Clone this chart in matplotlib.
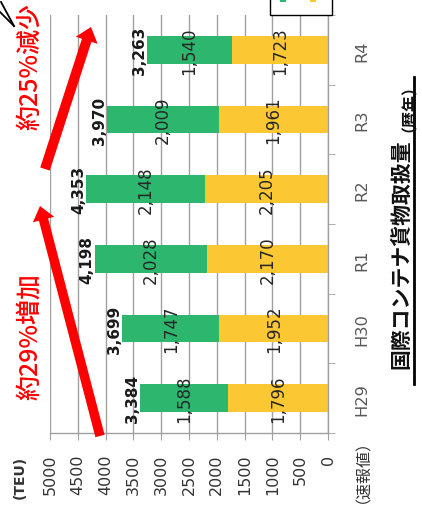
import matplotlib
matplotlib.use("Agg")
import matplotlib.pyplot as plt
from matplotlib.patches import FancyArrow, Rectangle
import numpy as np

# ---- data ----
categories = ["H29", "H30", "R1", "R2", "R3", "R4"]
yellow_vals = [1796, 1952, 2170, 2205, 1961, 1723]
green_vals = [1588, 1747, 2028, 2148, 2009, 1540]
totals = [3384, 3699, 4198, 4353, 3970, 3263]
value_ticks = list(range(0, 5001, 500))

GREEN = "#2cb66e"
YELLOW = "#fbc834"
GRID = "#a0a0a0"
CJK = ["Noto Sans CJK JP", "DejaVu Sans"]

W, H = 422, 510
fig = plt.figure(figsize=(W / 100, H / 100), dpi=100)
fig.patch.set_facecolor("white")

# main axes (chart rotated 90 deg counter-clockwise)
ax = fig.add_axes([50 / W, 1 - 434 / H, 278 / W, 418 / H])
y = np.arange(len(categories))
ax.barh(y, yellow_vals, height=0.4, color=YELLOW, zorder=2)
ax.barh(y, green_vals, left=yellow_vals, height=0.4, color=GREEN, zorder=2)
ax.set_xlim(5000, 0)
ax.set_ylim(-0.5, len(categories) - 0.5)
ax.set_xticks(value_ticks)
ax.set_xticklabels([str(v) for v in value_ticks])
ax.grid(axis="x", color=GRID, lw=1, zorder=0)
ax.set_axisbelow(True)
for s in ["top", "left"]:
    ax.spines[s].set_visible(False)
for s in ["bottom", "right"]:
    ax.spines[s].set_color(GRID)
    ax.spines[s].set_linewidth(1)
ax.tick_params(axis="x", direction="out", length=5, color=GRID, labelrotation=90,
               pad=10, labelsize=11.5, labelcolor="#333333")
ax.yaxis.tick_right()
ax.set_yticks(y)
ax.set_yticklabels(categories, rotation=90, va="center")
ax.tick_params(axis="y", which="major", length=0, pad=19, labelsize=11.7, labelcolor="#595959")
ax.set_yticks(np.arange(-0.5, len(categories), 1.0), minor=True)
ax.tick_params(axis="y", which="minor", direction="out", length=5, color=GRID)

# segment labels
for i in range(len(categories)):
    yv, gv = yellow_vals[i], green_vals[i]
    ax.text(yv / 2, i, f"{yv:,}", rotation=90, ha="center", va="center",
            fontsize=12, color="#262626", zorder=3)
    ax.text(yv + gv / 2, i, f"{gv:,}", rotation=90, ha="center", va="center",
            fontsize=12, color="#262626", zorder=3)
    ax.text(totals[i], i, f"{totals[i]:,}", rotation=90, ha="right", va="center",
            fontsize=11, fontweight="bold", color="#1a1a1a", zorder=3)

# overlay in pixel coordinates
ov = fig.add_axes([0, 0, 1, 1], zorder=5)
ov.set_xlim(0, W)
ov.set_ylim(H, 0)
ov.axis("off")
ov.patch.set_alpha(0)

# red arrows
ov.add_patch(FancyArrow(100, 437, 40 - 100, 207 - 437, width=9.5, head_width=22,
                        head_length=14, length_includes_head=True, color="red", lw=0))
ov.add_patch(FancyArrow(45, 170, 91 - 45, 28 - 170, width=10, head_width=23,
                        head_length=14, length_includes_head=True, color="red", lw=0))

# red annotations
ov.text(30, 337, "約29%増加", rotation=90, ha="center", va="center",
        fontsize=18, fontweight="medium", color="red", family=CJK)
ov.text(30, 67, "約25%減少", rotation=90, ha="center", va="center",
        fontsize=18, fontweight="medium", color="red", family=CJK)

# title
ov.text(401, 254, "国際コンテナ貨物取扱量", rotation=90, ha="center", va="center",
        fontsize=15, fontweight="bold", color="#111111", family=CJK)
ov.text(401, 100, "（暦年）", rotation=90, ha="center", va="center",
        fontsize=11.5, fontweight="bold", color="#111111", family=CJK)
ov.plot([414, 414], [78, 385], color="black", lw=2)

# extra labels
ov.text(355, 463, "（速報値）", rotation=90, ha="center", va="center",
        fontsize=11.5, color="#333333", family=CJK)
ov.text(20, 477, "(TEU)", rotation=90, ha="center", va="center",
        fontsize=10, fontweight="bold", color="#333333")

# partial legend box at top
ov.add_patch(Rectangle((270, -6), 62, 22, facecolor="white", edgecolor="black", lw=1))
ov.add_patch(Rectangle((280, -2), 6, 5, facecolor=GREEN, edgecolor="none"))
ov.add_patch(Rectangle((310, -2), 6, 5, facecolor=YELLOW, edgecolor="none"))

# black callout stroke top-left
ov.plot([1, 14], [3, 27], color="black", lw=1.3)
ov.plot([0, 14], [13, 27], color="black", lw=1.3)

fig.savefig("out.png", dpi=100)
